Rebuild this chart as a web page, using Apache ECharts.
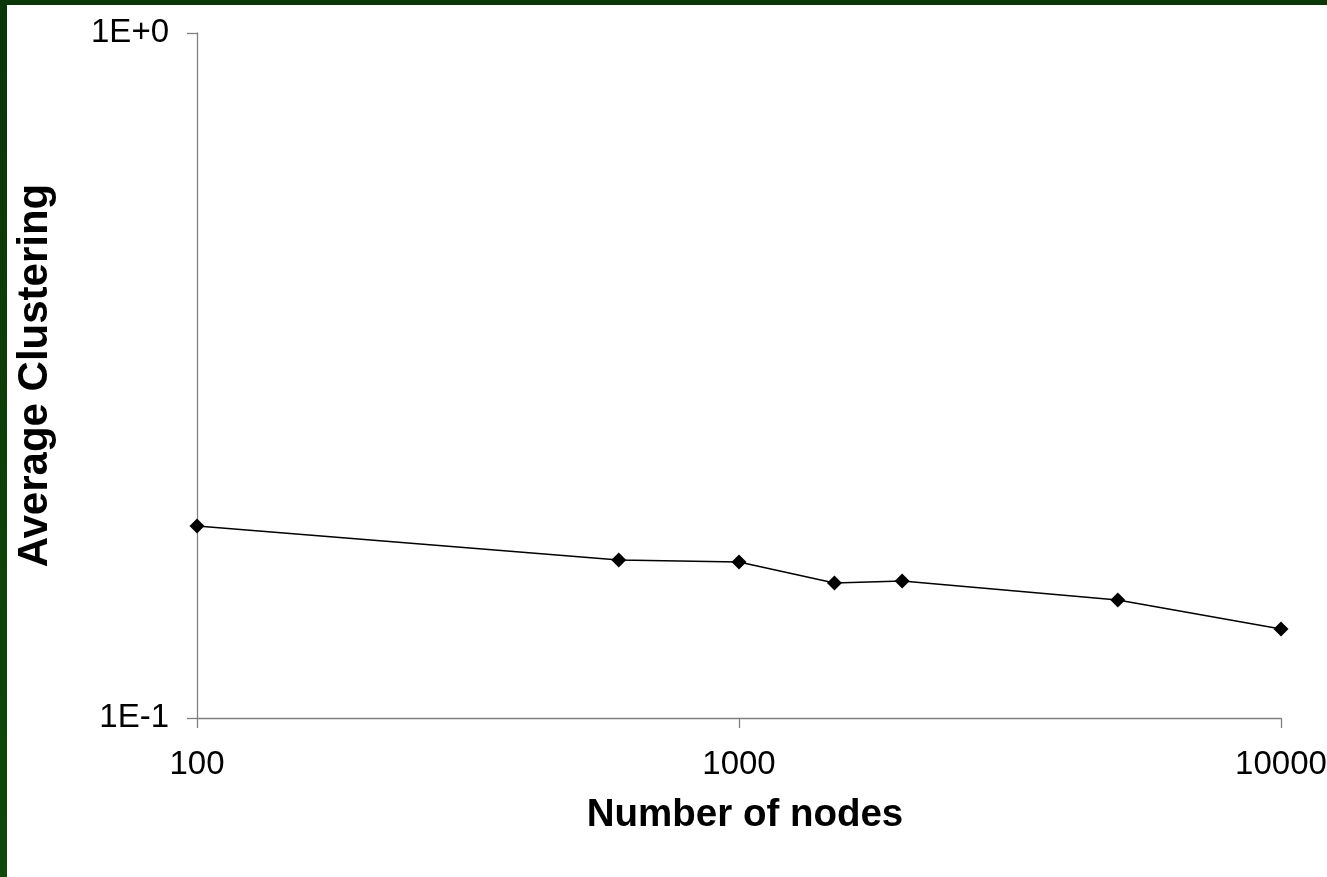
<!DOCTYPE html>
<html>
<head>
<meta charset="utf-8">
<script src="https://cdn.jsdelivr.net/npm/echarts@6/dist/echarts.min.js"></script>
<style>
    html, body { margin: 0; padding: 0; }
    body {
        width: 1327px; height: 877px; overflow: hidden;
        background: linear-gradient(to bottom, #0b3607, #10490b);
        position: relative;
    }
    #clust_chart {
        position: absolute; left: 7px; top: 5px;
        width: 1320px; height: 872px; background: #fff;
    }
</style>
</head>
<body>
<div id="clust_chart"></div>
<script>
// number of nodes (x) and average clustering (y)
var nodes = [100, 600, 1000, 1500, 2000, 5000, 10000];
var clustering = [0.1906, 0.1701, 0.1690, 0.1574, 0.1585, 0.1487, 0.1349];

var xTitle = 'Number of nodes';
var yTitle = 'Average Clustering';

var clust_chart;
window.onload = function () {
    initClustChart();
};

function expLabel(v) {
    var e = Math.round(Math.log(v) / Math.LN10);
    return '1E' + (e >= 0 ? '+' : '-') + Math.abs(e);
}

function initClustChart() {
    clust_chart = echarts.init(document.getElementById('clust_chart'));

    var pts = [];
    for (var i = 0; i < nodes.length; i++) {
        pts.push([nodes[i], clustering[i]]);
    }

    var axisCol = '#808080';
    var option = {
        animation: false,
        grid: {left: 190, top: 28, width: 1084, height: 685, outerBoundsMode: 'none', containLabel: false},
        xAxis: {
            type: 'log',
            logBase: 10,
            min: 100,
            max: 10000,
            name: xTitle,
            nameLocation: 'middle',
            nameGap: 78,
            nameTextStyle: {fontFamily: 'Liberation Sans', fontSize: 38.5, fontWeight: 'bold', color: '#000', padding: [0, 0, 0, 12]},
            axisLine: {lineStyle: {color: axisCol, width: 1.3}},
            axisTick: {length: 10, lineStyle: {color: axisCol, width: 1.3}},
            minorTick: {show: false},
            splitLine: {show: false},
            axisLabel: {
                fontFamily: 'Liberation Sans', fontSize: 33, color: '#000', margin: 30,
                formatter: function (v) { return String(Math.round(v)); }
            }
        },
        yAxis: {
            type: 'log',
            logBase: 10,
            min: 0.1,
            max: 1,
            name: yTitle,
            nameLocation: 'middle',
            nameGap: 141,
            nameTextStyle: {fontFamily: 'Liberation Sans', fontSize: 42, fontWeight: 'bold', color: '#000'},
            axisLine: {lineStyle: {color: axisCol, width: 1.3}},
            axisTick: {length: 10, lineStyle: {color: axisCol, width: 1.3}},
            splitLine: {show: false},
            axisLabel: {
                fontFamily: 'Liberation Sans', fontSize: 33, color: '#000', margin: 28,
                formatter: expLabel
            }
        },
        series: [
            {
                type: 'line',
                data: pts,
                symbol: 'diamond',
                symbolSize: 15,
                lineStyle: {color: '#000', width: 1.5},
                itemStyle: {color: '#000'}
            }
        ]
    };

    clust_chart.setOption(option);
}
</script>
</body>
</html>
